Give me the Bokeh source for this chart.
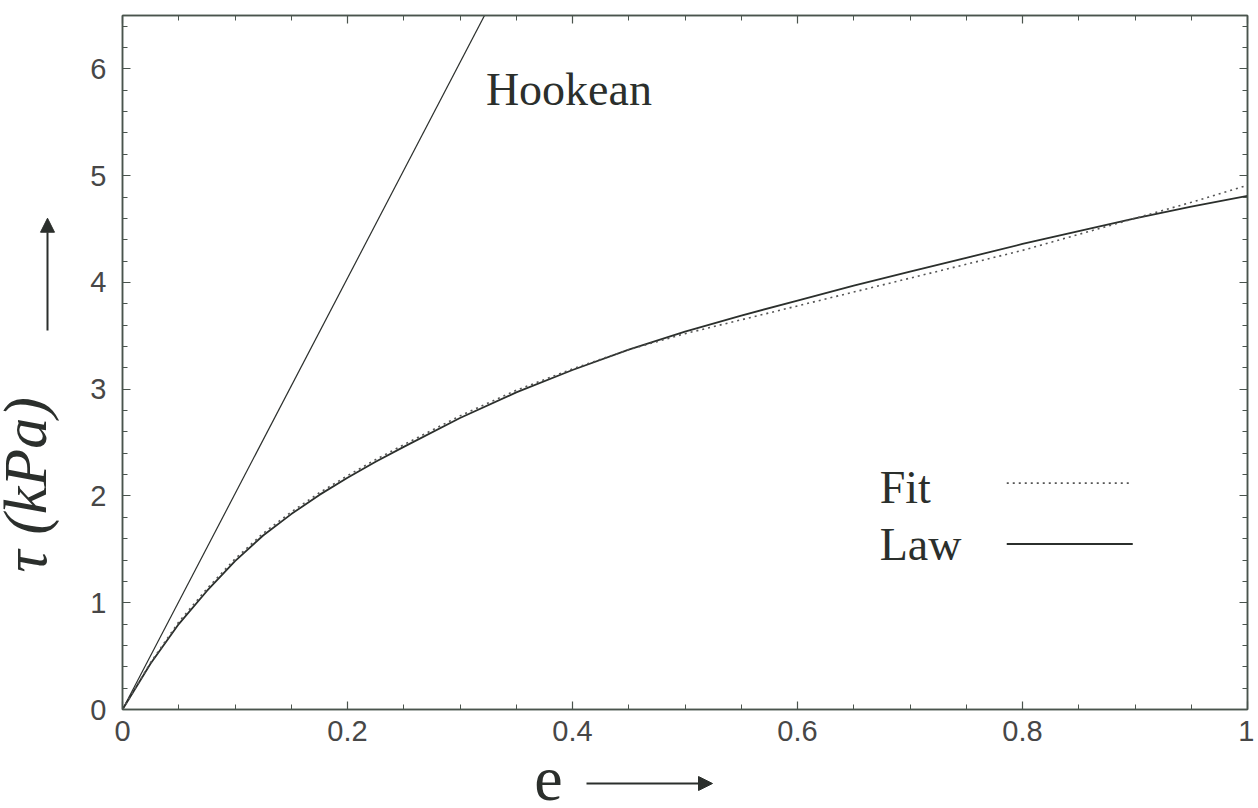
import math
from bokeh.plotting import figure
from bokeh.layouts import row, column
from bokeh.models import (Range1d, LinearAxis, SingleIntervalTicker,
                          CustomJSTickFormatter, Label, Arrow, NormalHead)
from bokeh.embed import file_html
from bokeh.resources import INLINE

# ---------------- data ----------------
strain = [0.0, 0.025, 0.05, 0.075, 0.1, 0.125, 0.15, 0.175, 0.2, 0.225, 0.25,
          0.3, 0.35, 0.4, 0.45, 0.5, 0.55, 0.6, 0.65, 0.7, 0.75, 0.8, 0.85,
          0.9, 0.95, 1.0]
tau_law = [0.0, 0.43, 0.80, 1.11, 1.39, 1.63, 1.83, 2.01, 2.17, 2.32, 2.46,
           2.73, 2.97, 3.18, 3.37, 3.54, 3.69, 3.83, 3.97, 4.10, 4.23, 4.36,
           4.48, 4.60, 4.71, 4.81]
tau_fit = [0.0, 0.44, 0.82, 1.13, 1.41, 1.65, 1.85, 2.03, 2.19, 2.34, 2.48,
           2.75, 2.99, 3.19, 3.37, 3.52, 3.65, 3.78, 3.91, 4.04, 4.17, 4.30,
           4.45, 4.60, 4.75, 4.91]
hooke_strain = [0.0, 0.33]
hooke_modulus = 20.2  # kPa
hooke_tau = [hooke_modulus * e for e in hooke_strain]

x_tick_step = 0.2
y_tick_step = 1.0
legend_labels = ["Fit", "Law"]
x_title = "e"
y_title = "τ (kPa)"

# ---------------- styling ----------------
INK = "#2b2f2c"
FRAME = "#4a544d"
TICK_TXT = "#474747"
SERIF = "Liberation Serif"
SANS = "Liberation Sans"

LEFT_W = 80          # strip holding the y title
TOP_H = 760          # height of the main row
BOT_H = 44           # strip holding the x title
TOTAL_W = 1254

def blank_panel(w, h):
    f = figure(width=w, height=h, x_range=Range1d(0, w), y_range=Range1d(0, h),
               output_backend="svg", toolbar_location=None,
               x_axis_type=None, y_axis_type=None, min_border=0,
               background_fill_color="white", border_fill_color="white")
    f.outline_line_color = None
    f.grid.visible = False
    return f

# ---------------- main plot ----------------
p = figure(width=TOTAL_W - LEFT_W, height=TOP_H,
           x_range=Range1d(0, 1), y_range=Range1d(0, 6.5),
           output_backend="svg", toolbar_location=None,
           min_border_left=42, min_border_right=7,
           min_border_top=15, min_border_bottom=51,
           background_fill_color="white", border_fill_color="white")
p.outline_line_color = FRAME
p.outline_line_width = 1.5
p.xgrid.visible = False
p.ygrid.visible = False

xticker = SingleIntervalTicker(interval=x_tick_step, num_minor_ticks=4)
yticker = SingleIntervalTicker(interval=y_tick_step, num_minor_ticks=5)
fmt = CustomJSTickFormatter(code="return String(Math.round(tick*10)/10);")

def style_axis(ax, show_labels, standoff):
    ax.axis_line_color = FRAME
    ax.axis_line_width = 1.5
    ax.major_tick_in = 8
    ax.major_tick_out = 0
    ax.minor_tick_in = 5
    ax.minor_tick_out = 0
    ax.major_tick_line_color = FRAME
    ax.minor_tick_line_color = FRAME
    ax.major_tick_line_width = 1.2
    ax.minor_tick_line_width = 1.0
    ax.formatter = fmt
    if show_labels:
        ax.major_label_text_font = SANS
        ax.major_label_text_font_size = "29px"
        ax.major_label_text_color = TICK_TXT
        ax.major_label_standoff = standoff
    else:
        ax.major_label_text_font_size = "0px"
        ax.major_label_standoff = 0

xaxis = p.xaxis[0]
yaxis = p.yaxis[0]
xaxis.ticker = xticker
yaxis.ticker = yticker
style_axis(xaxis, True, 11)
style_axis(yaxis, True, 16)

top = LinearAxis(ticker=xticker)
right = LinearAxis(ticker=yticker)
style_axis(top, False, 0)
style_axis(right, False, 0)
p.add_layout(top, "above")
p.add_layout(right, "right")

# curves
p.line(hooke_strain, hooke_tau, line_color=INK, line_width=1.2)
p.line(strain, tau_law, line_color=INK, line_width=1.8)
p.line(strain, tau_fit, line_color="#555555", line_width=1.6, line_dash="2 4")

# in-plot texts (anchor positions)
p.add_layout(Label(x=0.323, y=5.81, text="Hookean", text_font=SERIF,
                   text_font_size="46px", text_color=INK,
                   text_baseline="alphabetic"))

LEG_TXT_X = 0.673
LEG_LINE_X = [0.786, 0.898]
LEG_Y_TXT = [2.08, 1.55]
LEG_Y_LINE = [2.12, 1.55]
for lab, yt, yl in zip(legend_labels, LEG_Y_TXT, LEG_Y_LINE):
    p.add_layout(Label(x=LEG_TXT_X, y=yt, text=lab, text_font=SERIF,
                       text_font_size="46px", text_color=INK,
                       text_baseline="alphabetic"))
    if lab == "Fit":
        p.line(LEG_LINE_X, [yl, yl], line_color="#555555", line_width=1.6,
               line_dash="2 4")
    else:
        p.line(LEG_LINE_X, [yl, yl], line_color=INK, line_width=1.8)

# ---------------- y title strip (pixel coordinates, y up) ----------------
left = blank_panel(LEFT_W, TOP_H)
left.add_layout(Label(x=24, y=246, text=y_title, angle=math.pi / 2,
                      text_font=SERIF, text_font_style="italic",
                      text_font_size="62px", text_color=INK,
                      text_align="center", text_baseline="alphabetic"))
left.add_layout(Arrow(x_start=47, y_start=TOP_H - 345, x_end=47,
                      y_end=TOP_H - 222, line_color=INK, line_width=2,
                      end=NormalHead(size=14, fill_color=INK, line_color=INK)))

# ---------------- x title strip ----------------
bottom = blank_panel(TOTAL_W, BOT_H)
bottom.add_layout(Label(x=548, y=26, text=x_title, text_font=SERIF,
                        text_font_size="64px", text_color=INK,
                        text_align="center", text_baseline="alphabetic"))
bottom.add_layout(Arrow(x_start=586, y_start=21, x_end=712, y_end=21,
                        line_color=INK, line_width=2,
                        end=NormalHead(size=14, fill_color=INK,
                                       line_color=INK)))

layout = column(row(left, p), bottom)
open("out.html", "w").write(file_html(layout, INLINE))
